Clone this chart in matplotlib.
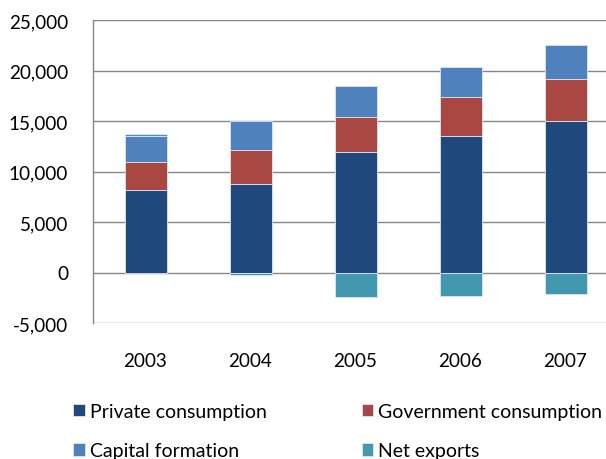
import matplotlib
matplotlib.use("Agg")
import matplotlib.pyplot as plt
import numpy as np
from matplotlib.ticker import FuncFormatter

# GDP by expenditure component
years = ["2003", "2004", "2005", "2006", "2007"]
private_consumption = [8180, 8740, 11980, 13550, 14990]
government_consumption = [2730, 3390, 3440, 3810, 4140]
capital_formation = [2600, 2870, 3020, 3020, 3370]
net_exports = [230, -260, -2430, -2330, -2100]

series = [
    ("Private consumption", private_consumption, "#1F497D"),
    ("Government consumption", government_consumption, "#A94743"),
    ("Capital formation", capital_formation, "#4F81BD"),
    ("Net exports", net_exports, "#4198AF"),
]

plt.rcParams["font.family"] = ["Lato", "DejaVu Sans"]

fig = plt.figure(figsize=(6.06, 4.6), dpi=100)
ax = fig.add_axes([93 / 606, 136 / 460, 525 / 606, 303 / 460])

x = np.arange(len(years))
pos_base = np.zeros(len(years))
neg_base = np.zeros(len(years))
handles = {}
for name, vals, color in series:
    vals = np.array(vals, dtype=float)
    bottoms = np.where(vals >= 0, pos_base, neg_base)
    bars = ax.bar(x, vals, width=0.4, bottom=bottoms, color=color,
                  edgecolor="#DCE6F2", linewidth=0.6, zorder=3, label=name)
    handles[name] = bars
    pos_base = pos_base + np.where(vals >= 0, vals, 0)
    neg_base = neg_base + np.where(vals < 0, vals, 0)

ax.set_xlim(-0.5, len(years) - 0.5)
ax.set_ylim(-5000, 25000)
ax.set_yticks(np.arange(-5000, 25001, 5000))
ax.yaxis.set_major_formatter(FuncFormatter(lambda v, p: f"{int(v):,}"))
ax.set_xticks(x)
ax.set_xticklabels(years)

ax.grid(axis="y", color="#878787", linewidth=1.0, zorder=0)
for s in ["top", "right", "bottom"]:
    ax.spines[s].set_visible(False)
ax.spines["left"].set_color("#878787")
ax.spines["left"].set_linewidth(1.0)
ax.tick_params(axis="both", length=0, labelsize=13.6, colors="#000000")
ax.tick_params(axis="y", pad=18)
ax.tick_params(axis="x", pad=21)

order = ["Private consumption", "Capital formation",
         "Government consumption", "Net exports"]
fig.legend([handles[n] for n in order], order, loc="upper left",
           bbox_to_anchor=(73 / 606, 1 - 404 / 460), ncol=2, frameon=False,
           fontsize=14, handlelength=0.6, handleheight=0.6,
           handletextpad=0.25, columnspacing=4.9, labelspacing=1.15,
           borderaxespad=0, borderpad=0)

fig.savefig("out.png", dpi=100)
